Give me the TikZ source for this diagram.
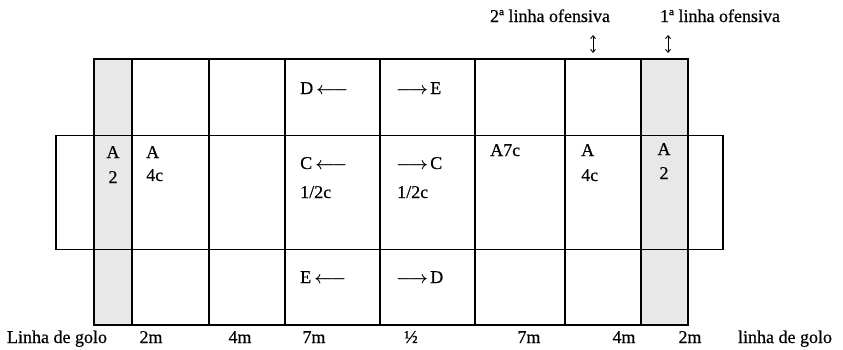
\documentclass[tikz,border=0pt]{standalone}
\usepackage{fontspec}
\setmainfont{Liberation Serif}[FakeBold=0.5]
\usetikzlibrary{arrows.meta}
\newcommand{\lar}{{\boldmath$\longleftarrow$}}
\newcommand{\rar}{{\boldmath$\longrightarrow$}}
\begin{document}
\begin{tikzpicture}[x=1pt,y=-1pt,
  every node/.style={inner sep=0pt,font=\fontsize{18}{22}\selectfont},
  tl/.style={anchor=base west},
  tc/.style={anchor=base},
  field/.style={line width=1.8pt,line join=miter},
  shade/.style={fill=black!9,draw=none},
  marker/.style={line width=0.9pt,{Straight Barb[length=3pt,width=5pt]}-{Straight Barb[length=3pt,width=5pt]}}]
\useasboundingbox (0,0) rectangle (843,349);
% shaded goal columns
\fill[shade] (94,59) rectangle (132,325);
\fill[shade] (641,59) rectangle (688,325);
% middle (wider) band
\draw[field] (56,135.5) rectangle (723,249.5);
% main field
\draw[field] (94,59) rectangle (688,325);
\foreach \x in {132,209,285,380,475,565,641}
  \draw[field] (\x,59) -- (\x,325);
% top row
\node[tl] (d1) at (300,94) {D\kern3pt\lar};
\node[tl] (e1) at (396,94) {\rar\kern2pt E};
% middle row
\node[tc] (a1) at (113,158) {A};
\node[tc] (a1n) at (113,183) {2};
\node[tl] (a2) at (146,158) {A};
\node[tl] (a2n) at (146,181) {4c};
\node[tl] (c1) at (300,169) {C\kern3pt\lar};
\node[tl] (c1n) at (300,198) {1/2c};
\node[tl] (c2) at (396,169) {\rar\kern2pt C};
\node[tl] (c2n) at (397,198) {1/2c};
\node[tl] (a7) at (490,156) {A7c};
\node[tl] (a3) at (581,156) {A};
\node[tl] (a3n) at (581,181) {4c};
\node[tc] (a4) at (664,155) {A};
\node[tc] (a4n) at (664,179) {2};
% bottom row
\node[tl] (e2) at (300,283) {E\kern3pt\lar};
\node[tl] (d2) at (396,283) {\rar\kern2pt D};
% bottom labels
\node[tc] (gl) at (57,343) {Linha de golo};
\node[tc] (m1) at (151,343) {2m};
\node[tc] (m2) at (240,343) {4m};
\node[tc] (m3) at (314,343) {7m};
\node[tc] (m4) at (411,343) {½};
\node[tc] (m5) at (529,343) {7m};
\node[tc] (m6) at (624,343) {4m};
\node[tc] (m7) at (690,343) {2m};
\node[tc] (gr) at (785,343) {linha de golo};
% top labels
\node[tc] (l2) at (550,22) {2ª linha ofensiva};
\node[tc] (l1) at (720,22) {1ª linha ofensiva};
\coordinate (l2a) at (593,35);
\coordinate (l2b) at (593,53);
\coordinate (l1a) at (668,35);
\coordinate (l1b) at (668,53);
\draw[marker] (l2a) -- (l2b);
\draw[marker] (l1a) -- (l1b);
\end{tikzpicture}
\end{document}
